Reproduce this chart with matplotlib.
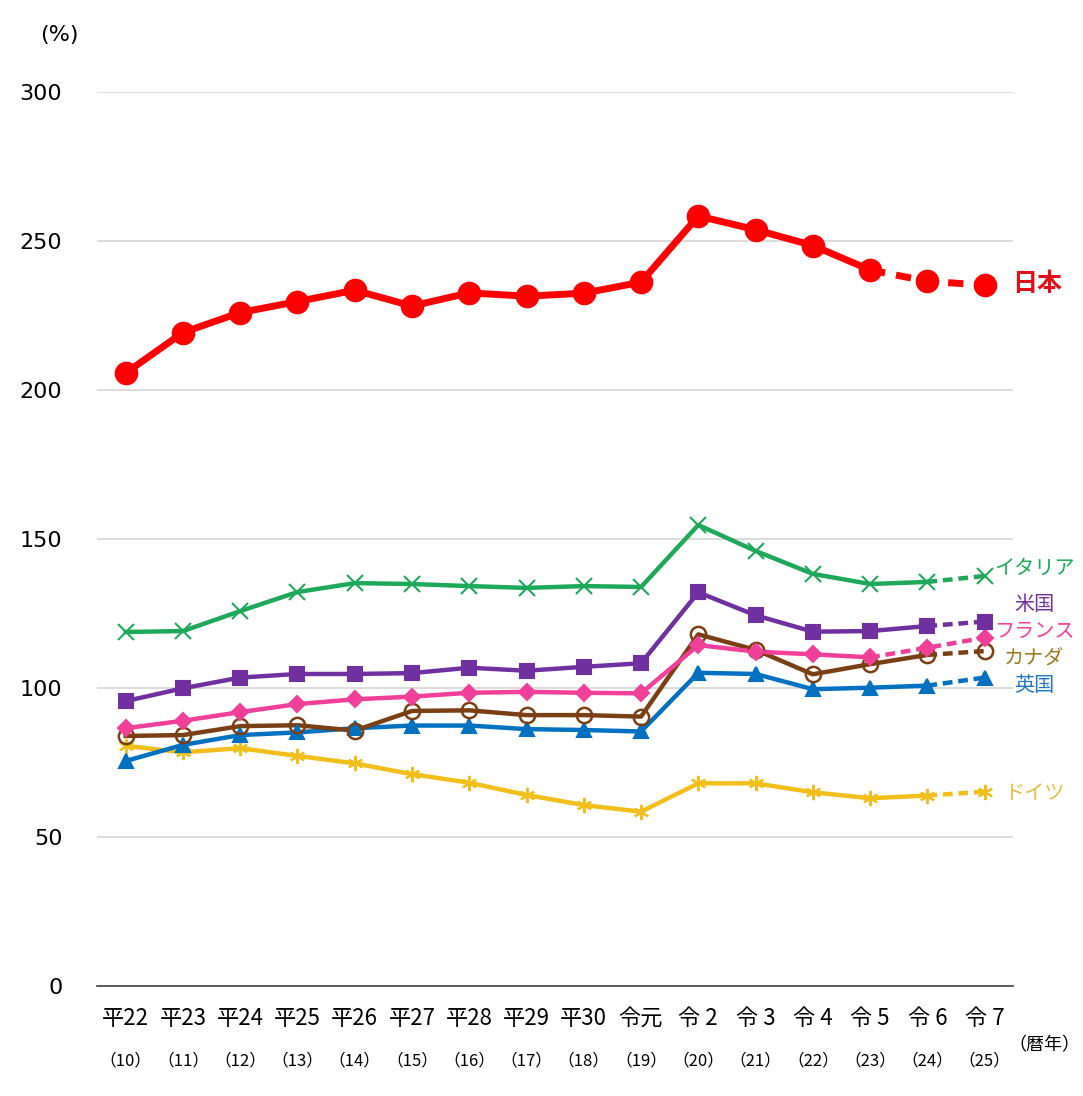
import matplotlib.pyplot as plt
import numpy as np

plt.rcParams['font.family'] = ['Noto Sans CJK JP', 'DejaVu Sans']

years = ['平22', '平23', '平24', '平25', '平26', '平27', '平28', '平29', '平30',
         '令元', '令 2', '令 3', '令 4', '令 5', '令 6', '令 7']
seireki = ['（10）', '（11）', '（12）', '（13）', '（14）', '（15）', '（16）', '（17）',
           '（18）', '（19）', '（20）', '（21）', '（22）', '（23）', '（24）', '（25）']

japan = [205.7, 219.3, 226.0, 229.7, 233.5, 228.2, 232.6, 231.5, 232.5, 236.2,
         258.4, 253.8, 248.5, 240.3, 236.5, 235.2]
italy = [118.8, 119.1, 125.8, 132.2, 135.2, 134.9, 134.2, 133.6, 134.2, 133.9,
         154.7, 146.0, 138.3, 134.9, 135.6, 137.6]
usa = [95.6, 99.9, 103.5, 104.7, 104.7, 105.0, 106.8, 105.8, 107.1, 108.3,
       132.1, 124.4, 118.9, 119.1, 120.8, 122.3]
france = [86.5, 89.0, 91.9, 94.6, 96.2, 97.1, 98.4, 98.7, 98.4, 98.2,
          114.4, 112.2, 111.3, 110.3, 113.5, 116.9]
canada = [83.9, 84.2, 87.2, 87.5, 85.7, 92.3, 92.5, 90.9, 90.9, 90.4,
          118.0, 112.8, 104.6, 108.0, 111.1, 112.4]
uk = [75.5, 80.9, 84.2, 85.1, 86.5, 87.4, 87.4, 86.2, 85.9, 85.4,
      105.1, 104.7, 99.6, 100.1, 100.8, 103.5]
germany = [80.6, 78.4, 79.8, 77.2, 74.7, 71.1, 68.2, 64.1, 60.7, 58.5,
           68.0, 68.0, 65.0, 63.0, 63.9, 65.2]

x = np.arange(len(years))

fig = plt.figure(figsize=(10.83, 10.96), dpi=100)
ax = fig.add_axes([0.0896, 0.1004, 0.846, 0.8156])

# name, data, color, marker, marker size, filled, dashed-from index, label color, label y
series = [
    ('ドイツ', germany, '#F2BE1A', (6, 2, 0), 11, True, 14, '#E3BE45', 64.5),
    ('英国', uk, '#0070C0', '^', 10, True, 14, '#1F78C1', 101),
    ('カナダ', canada, '#7B3F14', 'o', 11, False, 14, '#9A7A1C', 110),
    ('フランス', france, '#F0409A', 'D', 8, True, 13, '#F0409A', 119),
    ('米国', usa, '#7030A0', 's', 10, True, 14, '#7030A0', 128),
    ('イタリア', italy, '#1EA85A', 'x', 11, True, 14, '#1EA85A', 140),
]

for name, vals, col, mk, ms, filled, cut, lcol, ly in series:
    mfc = col if filled else 'none'
    ax.plot(x[:cut + 1], vals[:cut + 1], color=col, lw=3.2, zorder=3)
    ax.plot(x[cut:], vals[cut:], color=col, lw=3.2, ls=(0, (2.2, 1.3)), zorder=3)
    ax.plot(x, vals, ls='none', marker=mk, ms=ms, mfc=mfc, mec=col,
            mew=1.8 if mk == 'o' else 1.5, zorder=4)
    ax.text(15.87, ly, name, color=lcol, fontsize=14.5, va='center', ha='center',
            clip_on=False)

ax.plot(x[:14], japan[:14], color='#FF0000', lw=5, zorder=5)
ax.plot(x[13:], japan[13:], color='#FF0000', lw=5, ls=(0, (2.2, 1.6)), zorder=5)
ax.plot(x, japan, ls='none', marker='o', ms=16, color='#FF0000', zorder=6)
ax.text(15.48, 235.5, '日本', color='#E0101A', fontsize=18, fontweight='bold',
        va='center', ha='left', clip_on=False)

ax.set_xlim(-0.5, 15.5)
ax.set_ylim(0, 300)
ax.set_yticks(np.arange(0, 301, 50))
ax.grid(axis='y', color='#D9D9D9', lw=1.3)
ax.set_axisbelow(True)
for s in ['top', 'right', 'left']:
    ax.spines[s].set_visible(False)
ax.spines['bottom'].set_color('#404040')
ax.spines['bottom'].set_linewidth(1.2)
ax.tick_params(axis='y', length=0, pad=25)
for lab in ax.get_yticklabels():
    lab.set_family('DejaVu Sans')
    lab.set_fontsize(16)
ax.set_xticks(x)
ax.set_xticklabels(years, fontsize=16)
ax.tick_params(axis='x', length=0, pad=15)
for i, s in enumerate(seireki):
    ax.text(x[i], -25, s, fontsize=12, ha='center', va='center', clip_on=False)
ax.text(15.42, -20, '（暦年）', fontsize=13, ha='left', va='center', clip_on=False)
fig.text(0.055, 0.968, '(%)', fontsize=16, ha='center', va='center',
         family='DejaVu Sans')

fig.savefig('out.png', dpi=100)
